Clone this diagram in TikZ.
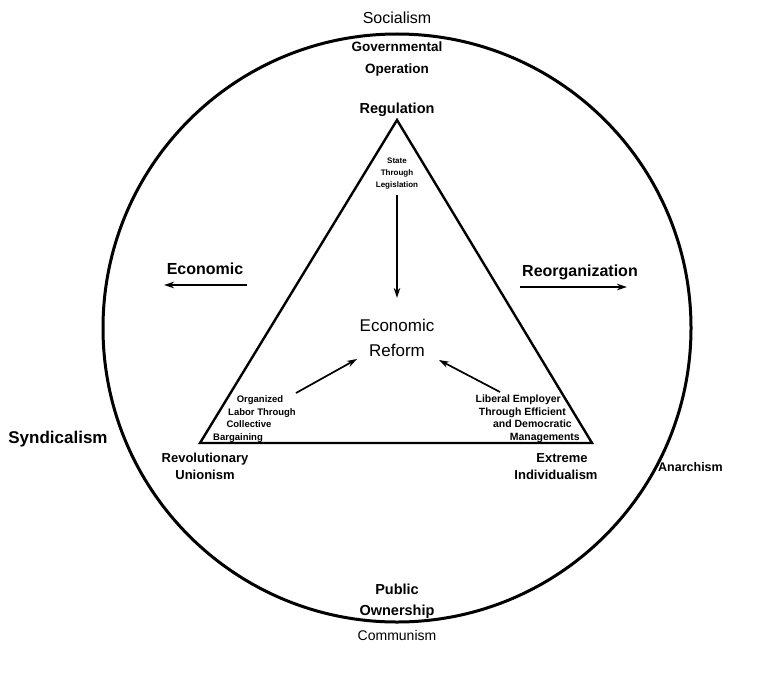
\documentclass[tikz,border=0pt]{standalone}
\usepackage{fontspec}
\setmainfont{Liberation Sans}
\usetikzlibrary{arrows.meta}
\newcommand\fsz[1]{\fontsize{#1}{#1}\selectfont}
\begin{document}
\begin{tikzpicture}[x=1pt,y=-1pt,
  lbl/.style={inner sep=0pt, anchor=base},
  lblr/.style={inner sep=0pt, anchor=base east},
  lbll/.style={inner sep=0pt, anchor=base west},
  arr/.style={line width=1.7pt,-{Stealth[length=10pt,width=6.5pt]}},
  edge/.style={line width=2.4pt, line join=miter},
 ]
\useasboundingbox (0,0) rectangle (770,677);
% circle
\node[circle, draw, line width=3pt, minimum size=588pt, inner sep=0pt] (circ) at (397,328) {};
% triangle
\coordinate (apex) at (397,120);
\coordinate (bl) at (200,443);
\coordinate (br) at (592,443);
\draw[edge] (apex) -- (bl) -- (br) -- cycle;
% outer labels
\node[lbl, font=\fsz{16}] (soc) at (397,24) {Socialism};
\node[lbl, font=\fsz{13.5}\bfseries] (gov) at (397,52) {Governmental};
\node[lbl, font=\fsz{13.5}\bfseries] (ope) at (397,73) {Operation};
\node[lbl, font=\fsz{14.5}\bfseries] (reg) at (397,113) {Regulation};
\node[lbl, font=\fsz{8}\bfseries] (sta) at (397,163) {State};
\node[lbl, font=\fsz{8}\bfseries] (thr) at (397,175) {Through};
\node[lbl, font=\fsz{8}\bfseries] (leg) at (397,187) {Legislation};
\node[lbl, font=\fsz{17}] (eco) at (397,331) {Economic};
\node[lbl, font=\fsz{17}] (ref) at (397,356) {Reform};
\node[lbl, font=\fsz{16}\bfseries] (ecl) at (205,274) {Economic};
\node[lbl, font=\fsz{16}\bfseries] (reo) at (580,276) {Reorganization};
% bottom-left text
\node[lbl, font=\fsz{9.5}\bfseries] (org) at (260,402.5) {Organized};
\node[lbl, font=\fsz{9.5}\bfseries] (lab) at (262,415) {Labor Through};
\node[lbl, font=\fsz{9.5}\bfseries] (col) at (249,427.5) {Collective};
\node[lbl, font=\fsz{9.5}\bfseries] (bar) at (238,440) {Bargaining};
% bottom-right text
\node[lblr, font=\fsz{10.5}\bfseries] (lib) at (561,402.5) {Liberal Employer};
\node[lblr, font=\fsz{10.5}\bfseries] (eff) at (566,415) {Through Efficient};
\node[lblr, font=\fsz{10.5}\bfseries] (dem) at (572,427.5) {and Democratic};
\node[lblr, font=\fsz{10.5}\bfseries] (man) at (580,440) {Managements};
% corner labels
\node[lbl, font=\fsz{13}\bfseries] (rev) at (205,462) {Revolutionary};
\node[lbl, font=\fsz{13}\bfseries] (uni) at (205,479) {Unionism};
\node[lbl, font=\fsz{13}\bfseries] (ext) at (562,462) {Extreme};
\node[lbl, font=\fsz{13}\bfseries] (ind) at (556,479) {Individualism};
\node[lbl, font=\fsz{17}\bfseries] (syn) at (58,443) {Syndicalism};
\node[lbll, font=\fsz{12.5}\bfseries] (ana) at (658,471) {Anarchism};
\node[lbl, font=\fsz{14.5}\bfseries] (pub) at (397,594) {Public};
\node[lbl, font=\fsz{14.5}\bfseries] (own) at (397,615) {Ownership};
\node[lbl, font=\fsz{14}] (com) at (397,640) {Communism};
% arrows
\coordinate (va1) at (397,195);
\coordinate (va2) at (397,298);
\draw[arr] (va1) -- (va2);
\coordinate (la1) at (296,393);
\coordinate (la2) at (357,359);
\draw[arr] (la1) -- (la2);
\coordinate (ra1) at (500,392);
\coordinate (ra2) at (439,360);
\draw[arr] (ra1) -- (ra2);
\coordinate (ea1) at (247,285);
\coordinate (ea2) at (164,285);
\draw[arr] (ea1) -- (ea2);
\coordinate (oa1) at (520,287);
\coordinate (oa2) at (627,287);
\draw[arr] (oa1) -- (oa2);
\end{tikzpicture}
\end{document}
